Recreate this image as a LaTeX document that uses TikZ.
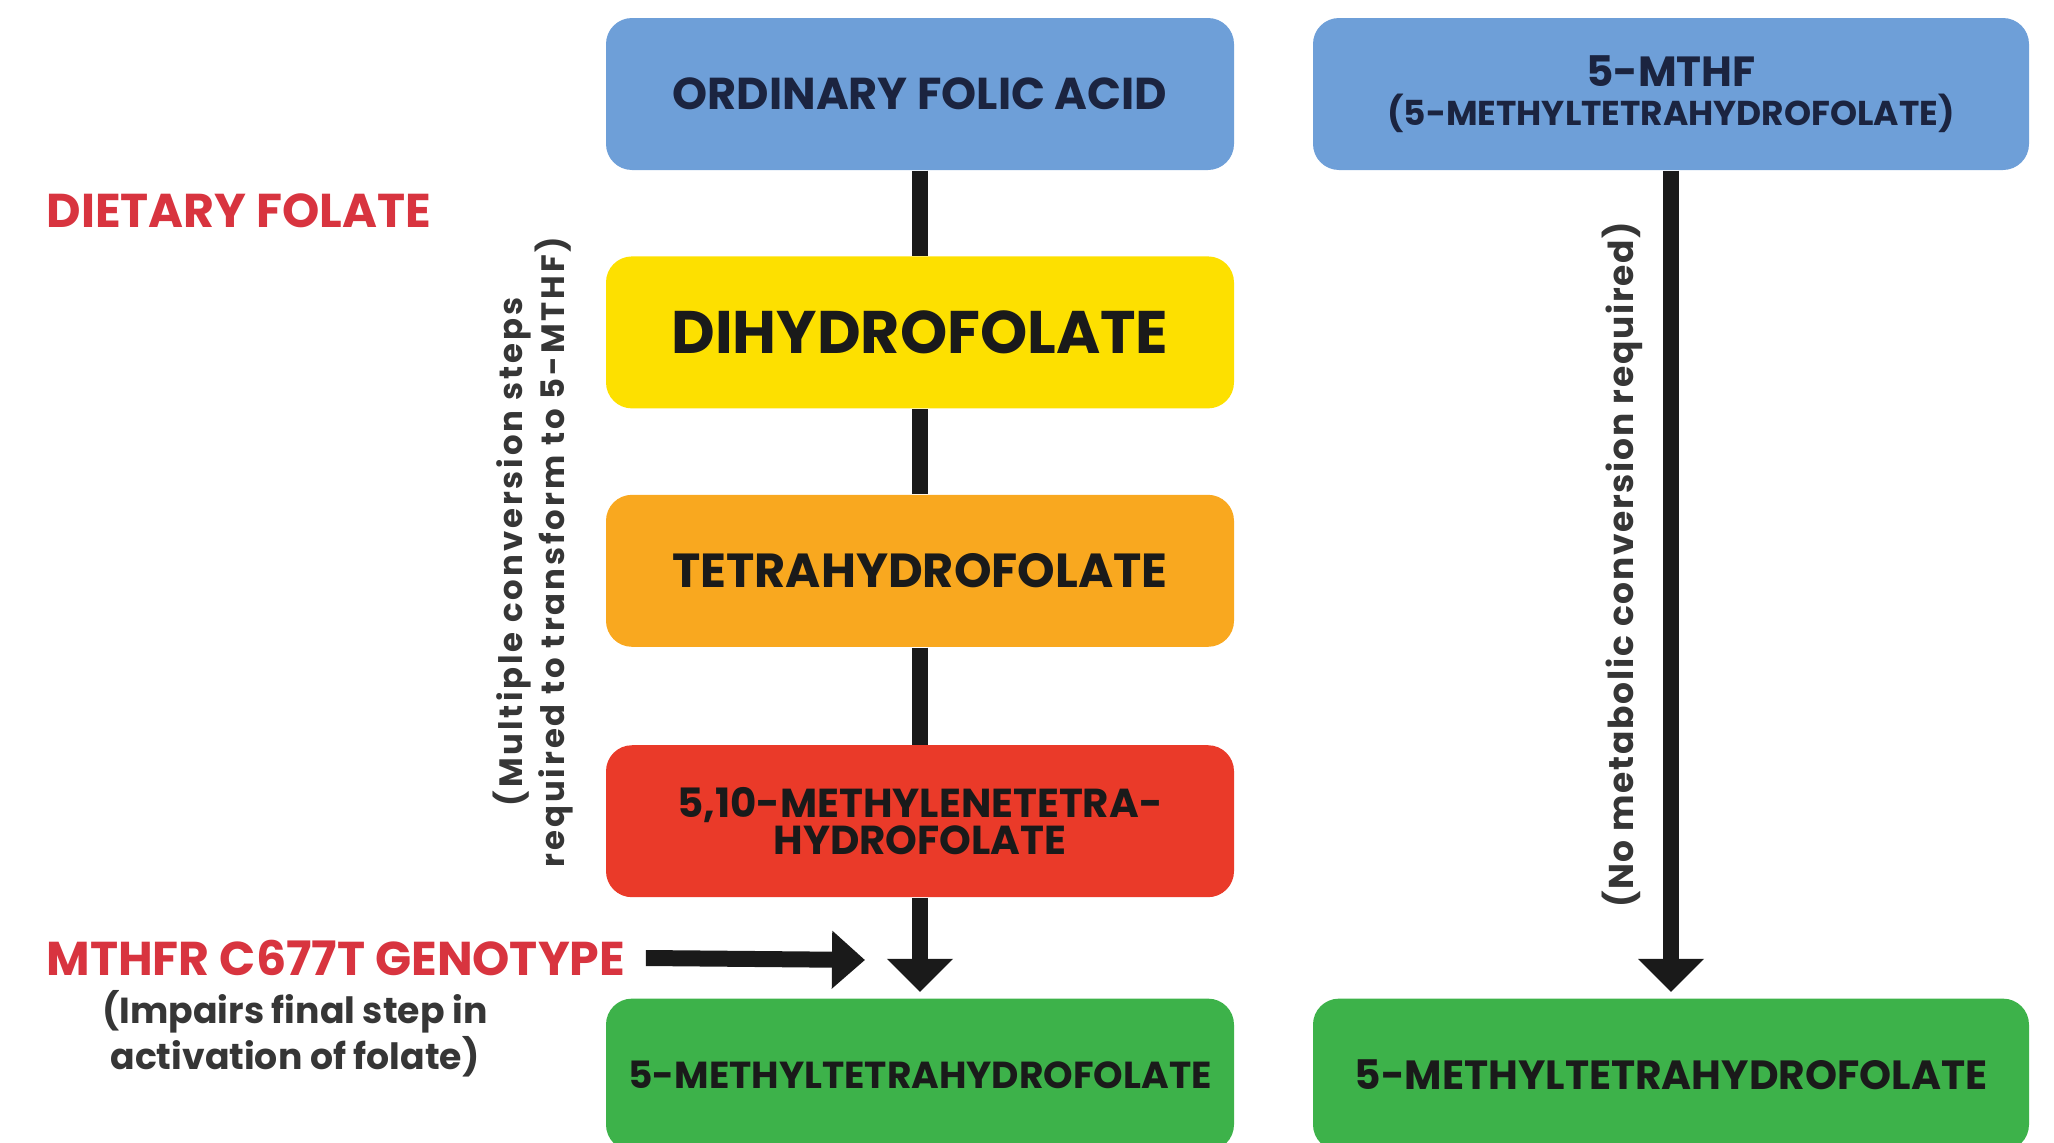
\documentclass[tikz,border=0pt]{standalone}
\usepackage{fontspec}
\setmainfont{Poppins}
\usetikzlibrary{arrows.meta, positioning}
\definecolor{folBlue}{HTML}{6E9FD8}
\definecolor{folYellow}{HTML}{FDE000}
\definecolor{folOrange}{HTML}{F9A81F}
\definecolor{folRed}{HTML}{EA3A29}
\definecolor{folGreen}{HTML}{3DB24A}
\definecolor{folNavy}{HTML}{1B2440}
\definecolor{folInk}{HTML}{1A1A1A}
\definecolor{tagRed}{HTML}{D8343F}
\definecolor{noteGray}{HTML}{363636}

\begin{document}
\begin{tikzpicture}[
    node distance=0.85cm,
    folbox/.style={rectangle, rounded corners=0.26cm, minimum width=6.28cm,
                   minimum height=1.52cm, align=center, inner sep=2pt,
                   text=folInk, font=\bfseries\fontsize{13.6pt}{15pt}\selectfont},
    widebox/.style={folbox, minimum width=7.16cm},
    link/.style={draw=folInk, line width=0.16cm},
    flow/.style={link, -{Triangle[length=0.33cm, width=0.64cm]}},
    tag/.style={anchor=west, inner sep=0pt, text=tagRed,
                font=\bfseries\fontsize{13.5pt}{15pt}\selectfont},
    note/.style={inner sep=0pt, align=center, text=noteGray,
                 font=\bfseries\fontsize{10.3pt}{12pt}\selectfont},
  ]
    \useasboundingbox (0,0) rectangle (20.54,-11.43);

    % left column: ordinary folic acid pathway
    \node[folbox, fill=folBlue, text=folNavy,
          font=\bfseries\fontsize{12.7pt}{14pt}\selectfont] (ofa) at (9.20,-0.94) {ORDINARY FOLIC ACID};
    \node[folbox, fill=folYellow,
          font=\bfseries\fontsize{17.1pt}{20pt}\selectfont, below=of ofa] (dhf) {DIHYDROFOLATE};
    \node[folbox, fill=folOrange, below=of dhf] (thf) {TETRAHYDROFOLATE};
    \node[folbox, fill=folRed, below=0.97cm of thf,
          font=\bfseries\fontsize{11.5pt}{9.4pt}\selectfont] (mlt) {5,10-METHYLENETETRA-\\HYDROFOLATE};
    \node[folbox, fill=folGreen, below=1.0cm of mlt,
          font=\bfseries\fontsize{10.7pt}{13pt}\selectfont] (mtL) {5-METHYLTETRAHYDROFOLATE};

    % right column: 5-MTHF
    \node[widebox, fill=folBlue, text=folNavy,
          font=\bfseries\fontsize{9.8pt}{11pt}\selectfont] (mtB) at (16.71,-0.94)
          {{\fontsize{12pt}{12pt}\selectfont 5-MTHF}\\(5-METHYLTETRAHYDROFOLATE)};
    \node[widebox, fill=folGreen, font=\bfseries\fontsize{11.6pt}{14pt}\selectfont] (mtR) at (mtB |- mtL) {5-METHYLTETRAHYDROFOLATE};

    \draw[link] (ofa) -- (dhf);
    \draw[link] (dhf) -- (thf);
    \draw[link] (thf) -- (mlt);
    \draw[flow, shorten >=0.06cm] (mlt) -- (mtL);
    \draw[flow, shorten >=0.06cm] (mtB) -- (mtR);

    % side labels
    \node[tag] (diet) at (0.46,-2.11) {DIETARY FOLATE};
    \node[tag] (gene) at (0.46,-9.58) {MTHFR C677T GENOTYPE};
    \node[note] (impair) at (2.95,-10.34) {(Impairs final step in\\activation of folate)};
    \coordinate (hit) at (8.65,-9.60);
    \draw[flow, -{Triangle[length=0.33cm, width=0.56cm]}] ([xshift=0.2cm]gene.east) -- (hit);

    \node[note, rotate=90, font=\bfseries\fontsize{9.2pt}{10pt}\selectfont\addfontfeature{LetterSpace=9}] (multi) at (5.33,-5.52)
      {(Multiple conversion steps\\required to transform to 5-MTHF)};
    \node[note, rotate=90, font=\bfseries\fontsize{9.8pt}{11pt}\selectfont\addfontfeature{LetterSpace=5}] (nomet) at (16.22,-5.65)
      {(No metabolic conversion required)};
  \end{tikzpicture}
\end{document}
